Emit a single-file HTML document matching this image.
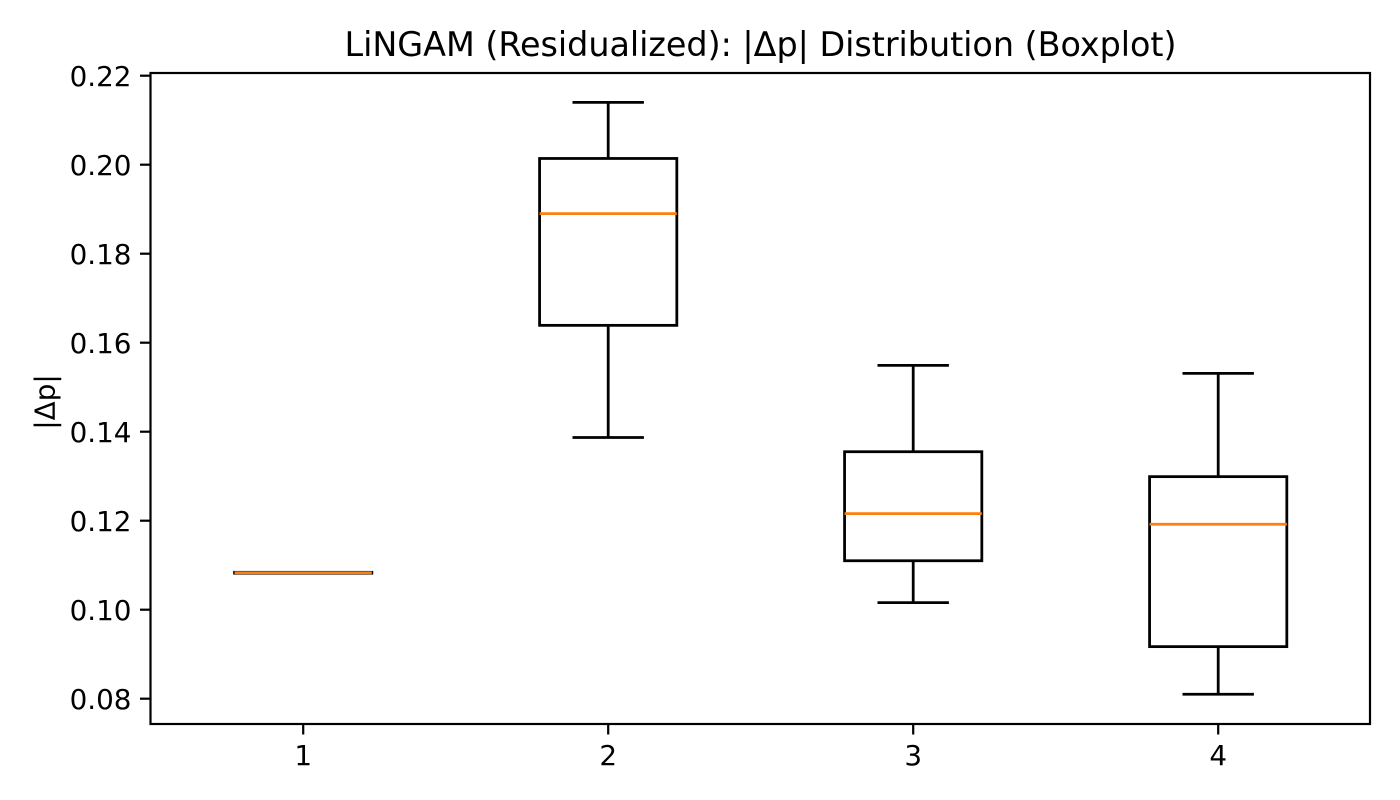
<!DOCTYPE html>
<html lang="en">
<head>
<meta charset="utf-8">
<title>LiNGAM (Residualized) Boxplot</title>
<style>
html,body{margin:0;padding:0;background:#fff;width:1400px;height:800px;overflow:hidden}
svg{display:block}
text{font-family:"DejaVu Sans",sans-serif;fill:#000}
</style>
</head>
<body>
<svg id="chart" xmlns="http://www.w3.org/2000/svg" width="1400" height="800" viewBox="0 0 1400 800">
<rect x="0" y="0" width="1400" height="800" fill="#fff"/>
<g id="marks"></g>
<rect x="150.5" y="73" width="1219.5" height="651" fill="none" stroke="#000" stroke-width="2.2"/>
<g id="ticks"></g>
<text x="760.5" y="56" font-size="33.4" text-anchor="middle" textLength="832" lengthAdjust="spacing">LiNGAM (Residualized): |Δp| Distribution (Boxplot)</text>
<text transform="translate(54.5,402) rotate(-90)" font-size="27.8" text-anchor="middle">|Δp|</text>
</svg>
<script>
const categories = ['1', '2', '3', '4'];
const whiskerLow = [0.1083, 0.1387, 0.1016, 0.0810];
const q1 = [0.1082, 0.1639, 0.1110, 0.0917];
const median = [0.1083, 0.1890, 0.1216, 0.1192];
const q3 = [0.1084, 0.2014, 0.1355, 0.1299];
const whiskerHigh = [0.1083, 0.2140, 0.1549, 0.1531];
const yTicks = [0.08, 0.10, 0.12, 0.14, 0.16, 0.18, 0.20, 0.22];

const NS = 'http://www.w3.org/2000/svg';
const xAxis = p => 150.7 + (p - 0.5) * 305;
const yAxis = v => 698.7 - (v - 0.08) * 4450;
const marks = document.getElementById('marks');
const ticks = document.getElementById('ticks');

function line(parent, x1, y1, x2, y2, color, width) {
  const el = document.createElementNS(NS, 'line');
  el.setAttribute('x1', x1);
  el.setAttribute('y1', y1);
  el.setAttribute('x2', x2);
  el.setAttribute('y2', y2);
  el.setAttribute('stroke', color);
  el.setAttribute('stroke-width', width);
  parent.appendChild(el);
  return el;
}
function label(parent, x, y, txt, anchor) {
  const el = document.createElementNS(NS, 'text');
  el.setAttribute('x', x);
  el.setAttribute('y', y);
  el.setAttribute('font-size', '27.8');
  el.setAttribute('text-anchor', anchor);
  el.textContent = txt;
  parent.appendChild(el);
  return el;
}

categories.forEach((c, i) => {
  const pos = i + 1;
  const cx = xAxis(pos);
  const g = document.createElementNS(NS, 'g');
  
  
  marks.appendChild(g);

  const wl = line(g, cx, yAxis(q1[i]), cx, yAxis(whiskerLow[i]), '#000', 2.78);
  
  

  const wh = line(g, cx, yAxis(q3[i]), cx, yAxis(whiskerHigh[i]), '#000', 2.78);
  
  

  const cl = line(g, xAxis(pos - 0.1125), yAxis(whiskerLow[i]), xAxis(pos + 0.1125), yAxis(whiskerLow[i]), '#000', 2.78);
  cl.setAttribute('stroke-linecap', 'square');
  
  

  const ch = line(g, xAxis(pos - 0.1125), yAxis(whiskerHigh[i]), xAxis(pos + 0.1125), yAxis(whiskerHigh[i]), '#000', 2.78);
  ch.setAttribute('stroke-linecap', 'square');
  
  

  const box = document.createElementNS(NS, 'rect');
  box.setAttribute('x', xAxis(pos - 0.225));
  box.setAttribute('y', yAxis(q3[i]));
  box.setAttribute('width', xAxis(pos + 0.225) - xAxis(pos - 0.225));
  box.setAttribute('height', yAxis(q1[i]) - yAxis(q3[i]));
  box.setAttribute('fill', 'none');
  box.setAttribute('stroke', '#000');
  box.setAttribute('stroke-width', '2.78');
  
  
  g.appendChild(box);

  const med = line(g, xAxis(pos - 0.225), yAxis(median[i]), xAxis(pos + 0.225), yAxis(median[i]), '#ff7f0e', 2.78);
  
  

  const tk = line(ticks, cx, 724, cx, 734.5, '#000', 2.2);
  
  

  const tl = label(ticks, cx, 765, c, 'middle');
  
  
});

yTicks.forEach(v => {
  const y = yAxis(v);
  const txt = v.toFixed(2);
  const tk = line(ticks, 140, y, 150.5, y, '#000', 2.2);
  
  

  const tl = label(ticks, 131.5, y + 10.5, txt, 'end');
  
  
});
</script>
</body>
</html>
